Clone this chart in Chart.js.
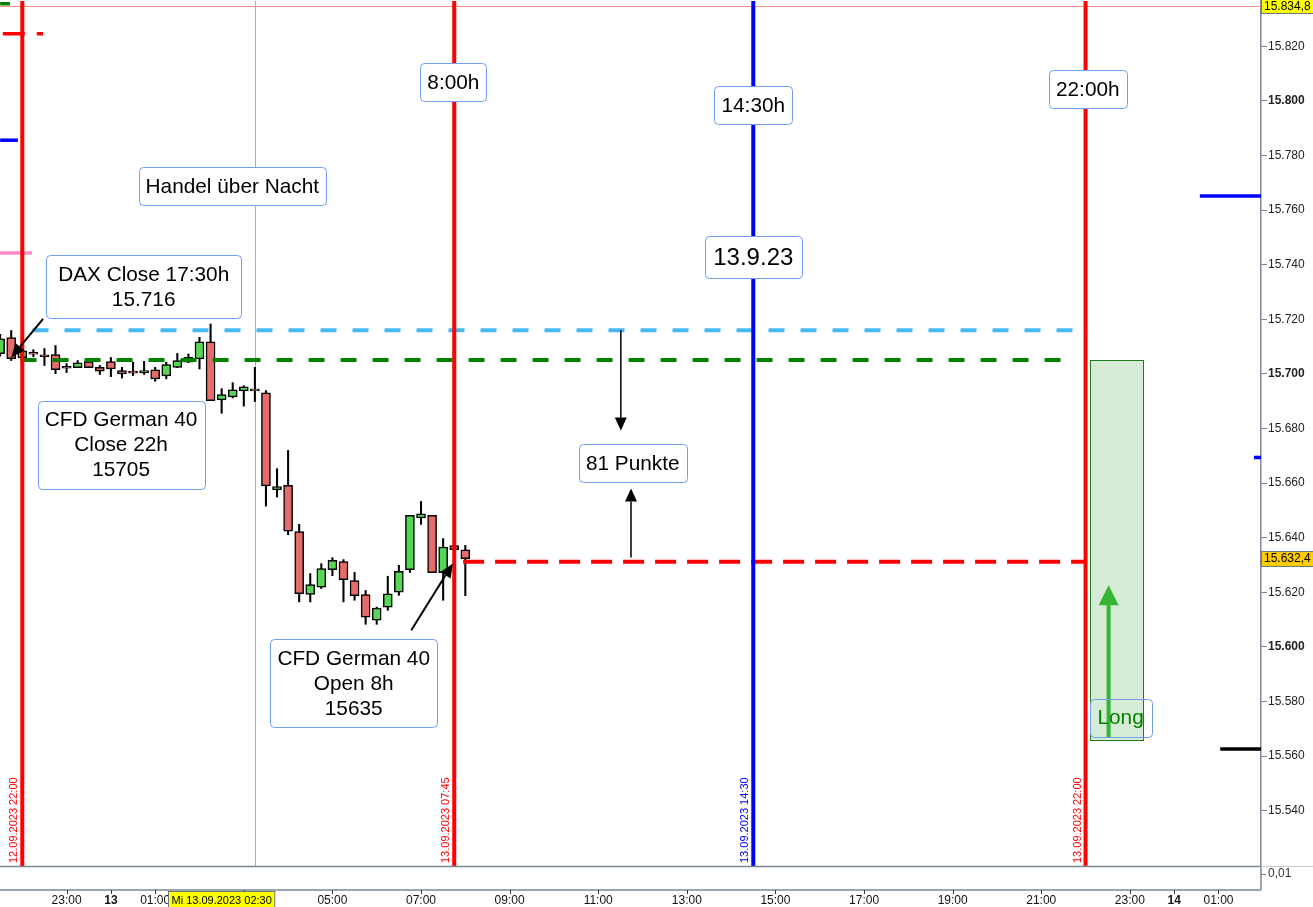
<!DOCTYPE html>
<html>
<head>
<meta charset="utf-8">
<script src="https://cdn.jsdelivr.net/npm/chart.js@4.4.0/dist/chart.umd.min.js"></script>
<style>
  html, body { margin: 0; padding: 0; background: #fff; }
  #wrap { width: 1313px; height: 907px; position: relative; }
</style>
</head>
<body>
<div id="wrap"><canvas id="chart"></canvas></div>
<script>
// time is in hours, counted from 13.09.2023 00:00 (negative = 12.09)
// 15 minute candles of CFD German 40
const candleTimes = [-2.5, -2.25, -2, -1.75, -1.5, -1.25, -1, -0.75, -0.5, -0.25, 0, 0.25, 0.5, 0.75, 1, 1.25, 1.5, 1.75, 2, 2.25, 2.5, 2.75, 3, 3.25, 3.5, 3.75, 4, 4.25, 4.5, 4.75, 5, 5.25, 5.5, 5.75, 6, 6.25, 6.5, 6.75, 7, 7.25, 7.5, 7.75, 8];
const candleOpen = [15707.4, 15713.3, 15706.0, 15707.9, 15707.0, 15707.1, 15702.8, 15702.3, 15704.5, 15702.4, 15704.5, 15701.2, 15701.0, 15700.4, 15701.5, 15699.3, 15702.4, 15704.3, 15705.5, 15711.8, 15690.5, 15691.6, 15693.8, 15694.5, 15693.1, 15657.6, 15659.2, 15642.3, 15619.2, 15621.9, 15628.3, 15631.3, 15624.3, 15619.2, 15609.8, 15614.6, 15620.1, 15628.3, 15647.3, 15648.2, 15627.2, 15637.1, 15635.6];
const candleHigh = [15714.5, 15715.9, 15709.0, 15708.9, 15709.3, 15710.4, 15703.8, 15704.9, 15705.6, 15703.1, 15706.0, 15702.4, 15704.3, 15704.6, 15702.4, 15704.3, 15707.5, 15707.3, 15713.4, 15718.3, 15694.6, 15696.8, 15695.7, 15702.4, 15693.9, 15665.3, 15672.0, 15644.9, 15626.9, 15630.5, 15632.7, 15632.0, 15627.3, 15620.7, 15614.6, 15625.9, 15629.9, 15648.2, 15653.3, 15648.2, 15639.7, 15637.2, 15637.2];
const candleLow = [15706.5, 15704.9, 15705.5, 15706.3, 15703.1, 15700.1, 15700.5, 15702.3, 15702.3, 15699.8, 15699.0, 15698.5, 15699.4, 15699.8, 15697.3, 15698.2, 15702.3, 15704.1, 15701.8, 15690.2, 15685.6, 15691.2, 15688.2, 15689.9, 15651.6, 15654.9, 15641.1, 15616.5, 15616.5, 15621.4, 15626.1, 15616.5, 15617.1, 15608.3, 15608.3, 15613.4, 15618.9, 15627.3, 15644.9, 15627.2, 15617.1, 15635.4, 15618.8];
const candleClose = [15712.9, 15705.6, 15708.5, 15707.2, 15706.3, 15701.6, 15702.1, 15704.1, 15702.3, 15701.0, 15701.8, 15700.0, 15700.3, 15701.2, 15698.2, 15703.4, 15704.9, 15706.1, 15711.8, 15690.2, 15692.4, 15694.2, 15695.3, 15693.8, 15659.0, 15658.7, 15642.4, 15619.5, 15622.8, 15628.7, 15631.7, 15624.6, 15618.8, 15610.9, 15614.2, 15619.5, 15627.7, 15648.2, 15648.8, 15627.2, 15636.6, 15635.6, 15632.3];

// visible range of the price pane
const xMin = -2.503, xMax = 25.96;
const yMin = 15519.77, yMax = 15836.57;

// axis ticks
const yTickValues = [15540, 15560, 15580, 15600, 15620, 15640, 15660, 15680, 15700, 15720, 15740, 15760, 15780, 15800, 15820];
const xTickHours = [-1, 0, 1, 3, 5, 7, 9, 11, 13, 15, 17, 19, 21, 23, 24, 25];
const xTickLabels = ['23:00', '13', '01:00', '03:00', '05:00', '07:00', '09:00', '11:00', '13:00', '15:00', '17:00', '19:00', '21:00', '23:00', '14', '01:00'];

// dashed horizontal levels: DAX close, CFD close 22h, CFD open 8h
const levelValues = [15716, 15705.1, 15631.2];
const levelStart = [-1.77, -2.04, 7.95];
const levelEnd = [21.75, 21.5, 22.0];

// vertical time markers
const markerTimes = [-2, 7.75, 14.5, 22];
const markerTexts = ['12.09.2023 22:00', '13.09.2023 07:45', '13.09.2023 14:30', '13.09.2023 22:00'];

// short marks at the pane edges
const edgeValues = [15835.6, 15824.6, 15785.6, 15744.3, 15765.2, 15669.4, 15562.6];
const edgeStart = [-2.5, -2.44, -2.5, -2.5, 24.58, 25.8, 25.04];
const edgeEnd = [-2.28, -1.53, -2.1, -1.78, 25.96, 25.96, 25.96];

// arrows (from -> to)
const arrowFromT = [-1.53, 6.78, 11.51, 11.74, 22.52];
const arrowFromV = [15720.2, 15606.1, 15716, 15632.8, 15567];
const arrowToT = [-2.25, 7.72, 11.51, 11.74, 22.52];
const arrowToV = [15706.0, 15630.6, 15679.3, 15658, 15622.6];

// long zone
const zoneStart = 22.09, zoneEnd = 23.29, zoneTop = 15705, zoneBottom = 15566;

// text boxes
const labelTexts = [['8:00h'], ['14:30h'], ['22:00h'], ['Handel über Nacht'], ['13.9.23'], ['DAX Close 17:30h', '15.716'], ['CFD German 40', 'Close 22h', '15705'], ['81 Punkte'], ['CFD German 40', 'Open 8h', '15635'], ['Long']];
const labelTimes = [7.73, 14.5, 22.05, 2.74, 14.5, 0.74, 0.23, 11.78, 5.48, 22.79];
const labelValues = [15806.9, 15798.5, 15804.4, 15768.9, 15742.7, 15731.9, 15674.1, 15667.2, 15586.7, 15574.1];

// crosshair and price marks
const crossTime = 3.255, crossValue = 15834.8;
const crossTimeText = 'Mi 13.09.2023 02:30', crossTimeAt = 2.5;
const lastPrice = 15632.4;

const fontFamily = '"Liberation Sans", Arial, sans-serif';
const labelSizes = [20.8, 20.8, 20.8, 20.8, 24, 20.8, 20.8, 20.8, 20.8, 20.8];
const labelMinWidth = [0, 0, 0, 0, 97, 195, 0, 0, 0, 62];
const labelColors = ['#000', '#000', '#000', '#000', '#000', '#000', '#000', '#000', '#000', '#008000'];
const markerColors = ['#ff0000', '#ff0000', '#0000ff', '#ff0000'];
const levelColors = ['#48b9f0', '#008000', '#ff0000'];
const levelDash = [[16, 16], [16, 16], [21, 11]];
const edgeColors = ['#008000', '#ff0000', '#0000ff', '#ff8cc4', '#0000ff', '#0000ff', '#000000'];
const edgeDash = [[], [22, 12], [], [], [], [], []];
const arrowStyles = [
  { color: '#000', width: 2, head: 14, half: 6 },
  { color: '#000', width: 2, head: 14, half: 6 },
  { color: '#000', width: 1.5, head: 13, half: 6 },
  { color: '#000', width: 1.5, head: 13, half: 6 },
  { color: '#33b533', width: 4, head: 20, half: 10 }
];

const candleColors = candleOpen.map((o, i) => candleClose[i] >= o ? '#55d655' : '#e66c6c');

const datasets = [];

// vertical markers
markerTimes.forEach((t, i) => {
  datasets.push({
    type: 'line', order: 0,
    data: [{ x: t, y: yMin }, { x: t, y: yMax }],
    borderColor: markerColors[i], borderWidth: 4, pointRadius: 0
  });
});

levelValues.forEach((v, i) => {
  datasets.push({
    type: 'line', order: 1,
    data: [{ x: levelStart[i], y: v }, { x: levelEnd[i], y: v }],
    borderColor: levelColors[i], borderWidth: 4, borderDash: levelDash[i], pointRadius: 0
  });
});

edgeValues.forEach((v, i) => {
  datasets.push({
    type: 'line', order: 1,
    data: [{ x: edgeStart[i], y: v }, { x: edgeEnd[i], y: v }],
    borderColor: edgeColors[i], borderWidth: 3.5, borderDash: edgeDash[i], pointRadius: 0
  });
});

// candle bodies
datasets.push({
  type: 'bar', order: 2, grouped: false,
  data: candleTimes.map((t, i) => ({ x: t, y: [candleOpen[i], candleClose[i]] })),
  backgroundColor: candleColors, borderColor: '#000', borderWidth: 1.5,
  borderSkipped: false, barThickness: 9
});
// wicks
datasets.push({
  type: 'bar', order: 3, grouped: false,
  data: candleTimes.map((t, i) => ({ x: t, y: [candleLow[i], candleHigh[i]] })),
  backgroundColor: '#000', borderWidth: 0, barThickness: 1.4
});

function roundRect(ctx, x, y, w, h, r) {
  ctx.beginPath();
  ctx.moveTo(x + r, y);
  ctx.lineTo(x + w - r, y);
  ctx.arcTo(x + w, y, x + w, y + r, r);
  ctx.lineTo(x + w, y + h - r);
  ctx.arcTo(x + w, y + h, x + w - r, y + h, r);
  ctx.lineTo(x + r, y + h);
  ctx.arcTo(x, y + h, x, y + h - r, r);
  ctx.lineTo(x, y + r);
  ctx.arcTo(x, y, x + r, y, r);
  ctx.closePath();
}

function drawArrow(ctx, x1, y1, x2, y2, s) {
  const ang = Math.atan2(y2 - y1, x2 - x1);
  const bx = x2 - Math.cos(ang) * s.head, by = y2 - Math.sin(ang) * s.head;
  ctx.strokeStyle = s.color; ctx.fillStyle = s.color; ctx.lineWidth = s.width;
  ctx.beginPath(); ctx.moveTo(x1, y1); ctx.lineTo(bx, by); ctx.stroke();
  ctx.beginPath();
  ctx.moveTo(x2, y2);
  ctx.lineTo(bx + Math.sin(ang) * s.half, by - Math.cos(ang) * s.half);
  ctx.lineTo(bx - Math.sin(ang) * s.half, by + Math.cos(ang) * s.half);
  ctx.closePath(); ctx.fill();
}

function priceTag(ctx, x, yc, text, fill) {
  ctx.font = '12px ' + fontFamily;
  const w = ctx.measureText(text).width + 6;
  ctx.fillStyle = fill;
  ctx.fillRect(x + 0.5, Math.round(yc - 7.5) + 0.5, w, 15);
  ctx.strokeStyle = '#6b7885'; ctx.lineWidth = 1;
  ctx.strokeRect(x + 0.5, Math.round(yc - 7.5) + 0.5, w, 15);
  ctx.fillStyle = '#000'; ctx.textAlign = 'left'; ctx.textBaseline = 'middle';
  ctx.fillText(text, x + 3, yc + 0.5);
}

const overlay = {
  id: 'overlay',
  beforeDatasetsDraw(chart) {
    const { ctx, chartArea: a, scales: { x, y } } = chart;
    ctx.save();
    ctx.beginPath(); ctx.rect(a.left, a.top, a.right - a.left, a.bottom - a.top); ctx.clip();
    // crosshair
    ctx.strokeStyle = '#ff8a8a'; ctx.lineWidth = 1;
    const cx = Math.round(x.getPixelForValue(crossTime)) + 0.5;
    const cy = Math.round(y.getPixelForValue(crossValue)) + 0.5;
    ctx.beginPath();
    ctx.moveTo(cx, a.top); ctx.lineTo(cx, a.bottom);
    ctx.moveTo(a.left, cy); ctx.lineTo(a.right, cy);
    ctx.stroke();
    // long zone
    const zx1 = Math.round(x.getPixelForValue(zoneStart)) + 0.5;
    const zx2 = Math.round(x.getPixelForValue(zoneEnd)) + 0.5;
    const zy1 = Math.round(y.getPixelForValue(zoneTop)) + 0.5;
    const zy2 = Math.round(y.getPixelForValue(zoneBottom)) + 0.5;
    ctx.fillStyle = '#d5ebd5';
    ctx.fillRect(zx1, zy1, zx2 - zx1, zy2 - zy1);
    ctx.strokeStyle = '#1e7a1e';
    ctx.strokeRect(zx1, zy1, zx2 - zx1, zy2 - zy1);
    ctx.restore();
  },
  afterDatasetsDraw(chart) {
    const { ctx, chartArea: a, scales: { x, y } } = chart;
    ctx.save();
    // vertical date texts
    ctx.font = '11px ' + fontFamily;
    markerTimes.forEach((t, i) => {
      ctx.save();
      ctx.translate(x.getPixelForValue(t) - 8, a.bottom - 3);
      ctx.rotate(-Math.PI / 2);
      ctx.fillStyle = markerColors[i];
      ctx.textAlign = 'left'; ctx.textBaseline = 'middle';
      ctx.fillText(markerTexts[i], 0, 0);
      ctx.restore();
    });
    // arrows
    arrowFromT.forEach((t, i) => {
      drawArrow(ctx, x.getPixelForValue(t), y.getPixelForValue(arrowFromV[i]),
        x.getPixelForValue(arrowToT[i]), y.getPixelForValue(arrowToV[i]), arrowStyles[i]);
    });
    // text boxes
    labelTexts.forEach((lines, i) => {
      const size = labelSizes[i];
      const lh = size * 1.2;
      ctx.font = size + 'px ' + fontFamily;
      let w = 0;
      lines.forEach(l => { w = Math.max(w, ctx.measureText(l).width); });
      const bw = Math.round(Math.max(w + 14, labelMinWidth[i])), bh = Math.round(lines.length * lh + 13);
      const cx = x.getPixelForValue(labelTimes[i]), cy = y.getPixelForValue(labelValues[i]);
      const bx = Math.round(cx - bw / 2) + 0.5, by = Math.round(cy - bh / 2) + 0.5;
      roundRect(ctx, bx, by, bw, bh, 4);
      if (labelColors[i] === '#000') { ctx.fillStyle = '#fff'; ctx.fill(); }
      ctx.strokeStyle = '#6f9ef2'; ctx.lineWidth = 1; ctx.stroke();
      ctx.fillStyle = labelColors[i]; ctx.textAlign = 'center'; ctx.textBaseline = 'middle';
      lines.forEach((l, k) => ctx.fillText(l, cx, cy - (lines.length - 1) * lh / 2 + k * lh + 1));
    });
    ctx.restore();
  },
  afterDraw(chart) {
    const { ctx, chartArea: a, scales: { x, y } } = chart;
    const paneBottom = a.bottom + 24;
    ctx.save();
    ctx.strokeStyle = '#7b8894'; ctx.lineWidth = 1.5;
    ctx.beginPath();
    ctx.moveTo(0, a.bottom + 0.5); ctx.lineTo(a.right, a.bottom + 0.5);
    ctx.moveTo(0, paneBottom); ctx.lineTo(a.right, paneBottom);
    ctx.moveTo(a.right, a.bottom); ctx.lineTo(a.right, paneBottom);
    ctx.stroke();
    ctx.strokeStyle = '#c4ccd4'; ctx.lineWidth = 1;
    ctx.beginPath(); ctx.moveTo(a.right, a.bottom + 0.5); ctx.lineTo(chart.width, a.bottom + 0.5); ctx.stroke();
    // x ticks below the lower pane
    ctx.strokeStyle = '#333'; ctx.lineWidth = 1;
    ctx.beginPath();
    x.ticks.forEach(tk => {
      const px = Math.round(x.getPixelForValue(tk.value)) + 0.5;
      ctx.moveTo(px, paneBottom); ctx.lineTo(px, paneBottom + 4);
    });
    ctx.stroke();
    // lower pane scale
    ctx.strokeStyle = '#7b8894';
    ctx.beginPath(); ctx.moveTo(a.right, a.bottom + 8.5); ctx.lineTo(a.right + 5, a.bottom + 8.5); ctx.stroke();
    ctx.font = '12px ' + fontFamily; ctx.fillStyle = '#333';
    ctx.textAlign = 'left'; ctx.textBaseline = 'middle';
    ctx.fillText('0,01', a.right + 7, a.bottom + 8);
    // price tags
    priceTag(ctx, a.right, y.getPixelForValue(crossValue), '15.834,8', '#ffff00');
    priceTag(ctx, a.right, y.getPixelForValue(lastPrice), '15.632,4', '#ffcc00');
    // crosshair time tag
    ctx.font = '11px ' + fontFamily;
    const tw = ctx.measureText(crossTimeText).width + 6;
    const tx = Math.round(x.getPixelForValue(crossTimeAt) - tw / 2) + 0.5;
    ctx.fillStyle = '#ffff00';
    ctx.fillRect(tx, paneBottom + 1.5, tw, 17);
    ctx.strokeStyle = '#6b7885'; ctx.strokeRect(tx, paneBottom + 1.5, tw, 17);
    ctx.fillStyle = '#000'; ctx.textBaseline = 'middle';
    ctx.fillText(crossTimeText, tx + 3, paneBottom + 10.5);
    ctx.restore();
  }
};

new Chart(document.getElementById('chart'), {
  type: 'bar',
  data: { datasets },
  options: {
    responsive: true,
    maintainAspectRatio: false,
    animation: false,
    devicePixelRatio: 1,
    layout: { padding: 0 },
    plugins: { legend: { display: false }, tooltip: { enabled: false } },
    scales: {
      x: {
        type: 'linear', position: 'bottom', min: xMin, max: xMax, offset: false,
        grid: { display: false, drawTicks: false },
        border: { display: false },
        afterBuildTicks: s => { s.ticks = xTickHours.map(v => ({ value: v })); },
        afterFit: s => { s.height = 41; },
        ticks: {
          autoSkip: false, maxRotation: 0, padding: 27, color: '#111',
          font: c => ({ family: fontFamily, size: 12, weight: (c.tick && c.tick.value % 24 === 0) ? 'bold' : 'normal' }),
          callback: (v, i) => xTickLabels[i]
        }
      },
      y: {
        type: 'linear', position: 'right', min: yMin, max: yMax, beginAtZero: false,
        grid: { drawOnChartArea: false, drawTicks: true, tickLength: 6, color: '#7b8894' },
        border: { display: true, color: '#7b8894', width: 1.5 },
        afterBuildTicks: s => { s.ticks = yTickValues.map(v => ({ value: v })); },
        afterFit: s => { s.width = 52; },
        ticks: {
          padding: 1, color: '#222',
          font: c => ({ family: fontFamily, size: 12, lineHeight: 0.01, weight: (c.tick && c.tick.value % 100 === 0) ? 'bold' : 'normal' }),
          callback: v => (v / 1000).toFixed(3)
        }
      }
    }
  },
  plugins: [overlay]
});
</script>
</body>
</html>
